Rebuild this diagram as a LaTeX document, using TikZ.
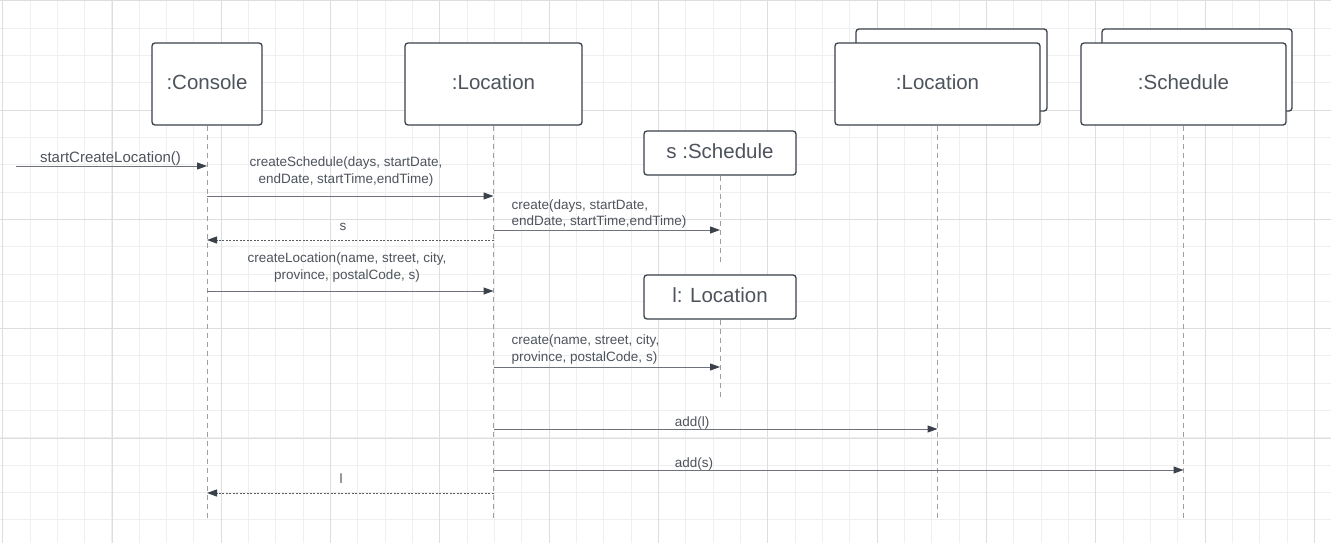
\documentclass[tikz,border=0pt]{standalone}
\usepackage{fontspec}
\setmainfont{Liberation Sans}
\usetikzlibrary{arrows.meta}

\definecolor{ink}{HTML}{3A414A}
\definecolor{msg}{HTML}{6E737B}
\definecolor{life}{HTML}{9C9FA5}
\definecolor{gridminor}{HTML}{EFEFEF}
\definecolor{gridmajor}{HTML}{DEDEDE}

\tikzset{
    obj/.style={draw=ink, line width=1.3pt, rounded corners=3pt, fill=white,
        text=ink!90, font=\fontsize{20.5}{24}\selectfont, inner sep=0pt, text depth=4pt},
    lifeline/.style={draw=life, line width=1pt, dash pattern=on 5pt off 4pt},
    call/.style={draw=msg, line width=1pt, -{Triangle[length=10pt,width=7pt,color=ink]}},
    reply/.style={draw=msg!80!black, line width=1pt, dash pattern=on 2pt off 1.5pt,
        -{Triangle[length=10pt,width=7pt,color=ink]}},
    lbl/.style={font=\fontsize{13.5}{16.5}\selectfont, text=ink!90, inner sep=0pt}
}

\begin{document}
\begin{tikzpicture}[x=1pt,y=-1pt]
    % grid
    \useasboundingbox (0,0) rectangle (1331,543);
    \fill[white] (0,0) rectangle (1331,543);
    \foreach \i in {0,...,48} \draw[gridminor, line width=1pt] (2.67+27.33*\i,0) -- ++(0,543);
    \foreach \j in {0,...,19} \draw[gridminor, line width=1pt] (0,0.7+27.33*\j) -- ++(1331,0);
    \foreach \i in {0,...,12} \draw[gridmajor, line width=1pt] (2.67+109.33*\i,0) -- ++(0,543);
    \foreach \j in {0,...,4} \draw[gridmajor, line width=1pt] (0,0.7+109.33*\j) -- ++(1331,0);

    % objects
    \node[obj, minimum width=110, minimum height=82] (console) at (207,84) {:Console};
    \node[obj, minimum width=177, minimum height=82] (loc) at (493.5,84) {:Location};
    \node[obj, minimum width=191, minimum height=82] (locback) at (951.5,70) {};
    \node[obj, minimum width=205, minimum height=82] (locs) at (937.5,84) {:Location};
    \node[obj, minimum width=190, minimum height=82] (schedback) at (1197,70) {};
    \node[obj, minimum width=205, minimum height=82] (scheds) at (1183.5,84) {:Schedule};
    \node[obj, minimum width=152, minimum height=44] (s) at (720,153) {s :Schedule};
    \node[obj, minimum width=152, minimum height=44] (l) at (720,297) {l: Location};

    % lifelines
    \foreach \o/\e in {console/520, loc/520, locs/520, scheds/520, s/262, l/398} {
        \coordinate (\o-end) at (\o.south |- 0,\e);
        \draw[lifeline] (\o.south) -- (\o-end);
    }

    % messages
    \coordinate (caller) at (16,166);
    \draw[call] (caller) -- (console |- caller);
    \node[lbl, anchor=base, font=\fontsize{15}{17}\selectfont] (m1) at (110.5,162.5) {startCreateLocation()};

    \draw[call] (console |- 0,196) -- (loc |- 0,196);
    \node[lbl, anchor=south, align=center] (m2) at (346,186) {createSchedule(days, startDate,\\endDate, startTime,endTime)};

    \draw[call] (loc |- 0,230) -- (s |- 0,230);
    \node[lbl, anchor=south west, align=left] (m3) at (511.5,228.5) {create(days, startDate,\\endDate, startTime,endTime)};

    \draw[reply] (loc |- 0,240) -- (console |- 0,240);
    \node[lbl, anchor=base] (m4) at (343,230.5) {s};

    \draw[call] (console |- 0,291) -- (loc |- 0,291);
    \node[lbl, anchor=south, align=center] (m5) at (347,282) {createLocation(name, street, city,\\province, postalCode, s)};

    \draw[call] (loc |- 0,367) -- (l |- 0,367);
    \node[lbl, anchor=south west, align=left] (m6) at (511.5,364) {create(name, street, city,\\province, postalCode, s)};

    \draw[call] (loc |- 0,429) -- (locs |- 0,429);
    \node[lbl, anchor=base] (m7) at (692,426.5) {add(l)};

    \draw[call] (loc |- 0,470) -- (scheds |- 0,470);
    \node[lbl, anchor=base] (m8) at (694,467) {add(s)};

    \draw[reply] (loc |- 0,493) -- (console |- 0,493);
    \node[lbl, anchor=base] (m9) at (341,483) {l};
\end{tikzpicture}
\end{document}
